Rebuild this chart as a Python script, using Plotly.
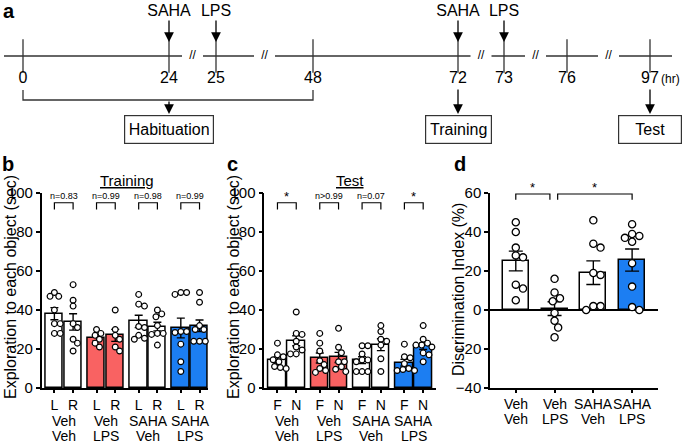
import numpy as np
import plotly.graph_objects as go

W, H = 685, 443
FONT = "Liberation Sans, Arial, sans-serif"

# ---------------- data ----------------
# panel a: timeline (hours) and their schematic positions on the drawn line
time_labels = ["0", "24", "25", "48", "72", "73", "76", "97"]
time_pos = [23, 169, 216, 313, 458, 504, 567, 650]
break_after = [1, 2, 4, 5, 6]          # a "//" break follows these points
saha_idx = [1, 4]
lps_idx = [2, 5]
stage_labels = ["Habituation", "Training", "Test"]
stage_idx = [1, 4, 7]
stage_box_w = [80, 57, 54]

# groups
group_top = ["Veh", "Veh", "SAHA", "SAHA"]
group_bottom = ["Veh", "LPS", "Veh", "LPS"]
group_colors = ["#FFFFFF", "#F96262", "#FFFFFF", "#1C7EF2"]

# panel b: training, exploration (sec) to left / right object
train_L = [[49, 47, 47, 40, 33, 33, 28, 28],
           [30, 28, 27, 25, 23, 21],
           [48, 42, 43, 31, 31.5, 27, 25, 25.5],
           [49, 48, 49, 29, 28.5, 29, 22.5, 13.5, 8.5]]
train_R = [[53, 45, 42, 33, 31, 25, 23, 19],
           [40, 30, 27, 25, 21, 19],
           [40, 38, 36.5, 32, 28, 27.5, 28, 22],
           [49, 44, 32, 30, 30, 30, 24, 24, 24]]
train_p = ["n=0.83", "n=0.99", "n=0.98", "n=0.99"]

# panel c: test, exploration (sec) to familiar / novel object
test_F = [[23, 17, 16, 14.5, 13.5, 11, 10, 10.5],
          [28, 23, 19, 14, 12, 10, 9, 8],
          [21.7, 21.7, 17.4, 14.4, 13.5, 14.4, 8.4, 8.4, 8.4],
          [22.5, 16, 15.5, 12.5, 10, 9, 9, 9.5]]
test_N = [[39, 28, 27.5, 24, 21, 19.5, 17.5, 17.5],
          [30.6, 20.9, 18.1, 13.5, 13.5, 10.9, 9.6, 8.4],
          [32, 29, 25, 24, 22, 15, 8.5],
          [32, 25, 23, 22, 22, 21, 18, 17, 13.5]]
test_p = ["*", "n>0.99", "n=0.07", "*"]

# panel d: discrimination index (%)
disc = [[45, 40, 32, 27, 28, 13, 11, 5],
        [16, 6, 4.5, 9, -1.5, -5.5, -9, -14],
        [46, 32, 34, 19, 18, 2, 0, 2],
        [44, 39, 37, 35, 38, 24, 12, 0, 1.5]]
disc_pairs = [(0, 1), (1, 3)]
disc_p = ["*", "*"]

# ---------------- layout constants (pixels) ----------------
PY_TOP, PY_BOT = 193, 388
PANEL = {
    "b": dict(x0=41.7, x1=208.3, xr=[-0.523, 3.43], yr=[0, 100]),
    "c": dict(x0=264.3, x1=435.7, xr=[-0.533, 3.518], yr=[0, 100]),
    "d": dict(x0=490.0, x1=657.7, xr=[-0.665, 3.66], yr=[-40, 60]),
}
OFF = 0.222
BW_PAIR = 0.41
BW_D = 0.67


def pxx(p):
    return p / W


def pxy(p):
    return 1 - p / H


def scales(key):
    P = PANEL[key]
    sx = (P["x1"] - P["x0"]) / (P["xr"][1] - P["xr"][0])
    sy = (PY_BOT - PY_TOP) / (P["yr"][1] - P["yr"][0])
    return sx, sy


def swarm(vals, center, sx, sy, d):
    placed = []
    xs = [0.0] * len(vals)
    order = sorted(range(len(vals)), key=lambda i: -vals[i])
    cands = [0.0]
    for k in range(1, 40):
        cands += [k * d / 4, -k * d / 4]
    for i in order:
        yp = vals[i] * sy
        for c in cands:
            if all((c - a) ** 2 + (yp - b) ** 2 >= d * d * 0.98 for a, b in placed):
                break
        placed.append((c, yp))
        xs[i] = center + c / sx
    return xs


def sem(v):
    v = np.asarray(v, float)
    return float(v.std(ddof=1) / np.sqrt(len(v)))


fig = go.Figure()
shapes = []
annotations = []
BLACK = "black"


def paper_text(x, y, text, size, **kw):
    d = dict(x=pxx(x), y=pxy(y), xref="paper", yref="paper", text=text,
             showarrow=False, xanchor="center", yanchor="middle",
             font=dict(size=size, color=BLACK))
    d.update(kw)
    return d


def add_pair_panel(key, xa, ya, left, right, ticklab, plabels):
    sx, sy = scales(key)
    xs, ys, errs, cols, tv, tt = [], [], [], [], [], []
    dx, dy = [], []
    for i in range(4):
        for side, data, lab in ((-1, left[i], ticklab[0]), (1, right[i], ticklab[1])):
            xp = i + side * OFF
            xs.append(xp)
            ys.append(float(np.mean(data)))
            errs.append(sem(data))
            cols.append(group_colors[i])
            tv.append(xp)
            tt.append(lab)
            dx += swarm(data, xp, sx, sy, 5.8)
            dy += list(data)
    fig.add_trace(go.Bar(x=xs, y=ys, width=BW_PAIR, xaxis=xa, yaxis=ya,
                         marker=dict(color=cols, line=dict(color=BLACK, width=1.5)),
                         error_y=dict(type="data", array=errs, visible=True,
                                      color=BLACK, thickness=1.4, width=4),
                         showlegend=False, hoverinfo="skip"))
    fig.add_trace(go.Scatter(x=dx, y=dy, mode="markers", xaxis=xa, yaxis=ya,
                             marker=dict(size=5.8, color="white",
                                         line=dict(color=BLACK, width=1.2)),
                             showlegend=False, hoverinfo="skip", cliponaxis=False))
    for i, pl in enumerate(plabels):
        a, b = i - OFF, i + OFF
        shapes.append(dict(type="path", xref=xa, yref=ya,
                           path=f"M {a},91.5 L {a},95 L {b},95 L {b},91.5",
                           line=dict(color=BLACK, width=1.2)))
        star = pl == "*"
        annotations.append(dict(x=i, y=95, xref=xa, yref=ya, text=pl,
                                showarrow=False, xanchor="center", yanchor="bottom",
                                yshift=-3 if star else 0,
                                font=dict(size=13 if star else 9, color=BLACK)))
    return tv, tt


def axis_common():
    return dict(showline=True, linecolor=BLACK, linewidth=1.5, ticks="outside",
                ticklen=4, tickwidth=1.5, tickcolor=BLACK, showgrid=False,
                zeroline=False, fixedrange=True, automargin=False,
                tickfont=dict(size=15, color=BLACK))


tv_b, tt_b = add_pair_panel("b", "x", "y", train_L, train_R, ["L", "R"], train_p)
tv_c, tt_c = add_pair_panel("c", "x2", "y2", test_F, test_N, ["F", "N"], test_p)

# panel d
sx, sy = scales("d")
dx, dy = [], []
for i in range(4):
    dx += swarm(disc[i], i, sx, sy, 7.2)
    dy += disc[i]
fig.add_trace(go.Bar(x=list(range(4)), y=[float(np.mean(v)) for v in disc], width=BW_D,
                     xaxis="x3", yaxis="y3",
                     marker=dict(color=group_colors, line=dict(color=BLACK, width=1.5)),
                     error_y=dict(type="data", array=[sem(v) for v in disc], visible=True,
                                  color=BLACK, thickness=1.4, width=7),
                     showlegend=False, hoverinfo="skip"))
fig.add_trace(go.Scatter(x=dx, y=dy, mode="markers", xaxis="x3", yaxis="y3",
                         marker=dict(size=7.2, color="white", line=dict(color=BLACK, width=1.3)),
                         showlegend=False, hoverinfo="skip", cliponaxis=False))
for (a, b), pl, (ea, eb) in zip(disc_pairs, disc_p, [(0, -0.12), (0.08, 0)]):
    xa_, xb_ = a + ea, b + eb
    shapes.append(dict(type="path", xref="x3", yref="y3",
                       path=f"M {xa_},56.5 L {xa_},59.5 L {xb_},59.5 L {xb_},56.5",
                       line=dict(color=BLACK, width=1.2)))
    annotations.append(dict(x=(xa_ + xb_) / 2, y=59.5, xref="x3", yref="y3", text=pl,
                            showarrow=False, xanchor="center", yanchor="bottom", yshift=-3,
                            font=dict(size=13, color=BLACK)))

# group labels under b, c, d
for key, xa, y1, y2 in (("b", "x", 421, 436), ("c", "x2", 421, 436), ("d", "x3", 404, 419)):
    for i in range(4):
        for txt, yy in ((group_top[i], y1), (group_bottom[i], y2)):
            annotations.append(dict(x=i, y=pxy(yy), xref=xa, yref="paper", text=txt,
                                    showarrow=False, xanchor="center", yanchor="middle",
                                    font=dict(size=14, color=BLACK)))

# titles / axis titles / panel letters
annotations += [
    paper_text(127, 181, "<u>Training</u>", 15),
    paper_text(350, 181, "<u>Test</u>", 15),
    paper_text(10, 287, "Exploration to each object (sec)", 16, textangle=-90),
    paper_text(233, 287, "Exploration to each object (sec)", 16, textangle=-90),
    paper_text(458, 290, "Discrimination Index (%)", 16, textangle=-90),
]
for lab, x, y in (("a", 9, 11), ("b", 8, 164), ("c", 232, 164), ("d", 460, 164)):
    annotations.append(paper_text(x, y, f"<b>{lab}</b>", 20))

# ---------------- panel a: timeline ----------------
LINE_Y, GAP = 56, 10.5
line_x, line_y = [4], [LINE_Y]
for k in break_after:
    mid = (time_pos[k] + time_pos[k + 1]) / 2
    line_x += [mid - GAP, None, mid + GAP]
    line_y += [LINE_Y, None, LINE_Y]
line_x.append(672)
line_y.append(LINE_Y)
fig.add_trace(go.Scatter(x=line_x, y=line_y, mode="lines", xaxis="x4", yaxis="y4",
                         line=dict(color="#333333", width=1.3), showlegend=False,
                         hoverinfo="skip"))
fig.add_trace(go.Scatter(x=time_pos, y=[LINE_Y] * len(time_pos), mode="markers",
                         xaxis="x4", yaxis="y4",
                         marker=dict(symbol="line-ns", size=24,
                                     line=dict(color="#333333", width=1.3)),
                         showlegend=False, hoverinfo="skip"))
fig.add_trace(go.Scatter(x=time_pos, y=[79] * len(time_pos), mode="text",
                         text=time_labels, xaxis="x4", yaxis="y4",
                         textfont=dict(size=16, color=BLACK),
                         showlegend=False, hoverinfo="skip"))
breaks_x = [(time_pos[k] + time_pos[k + 1]) / 2 for k in break_after]
fig.add_trace(go.Scatter(x=breaks_x, y=[LINE_Y] * len(breaks_x), mode="text",
                         text=["//"] * len(breaks_x), xaxis="x4", yaxis="y4",
                         textfont=dict(size=12, color=BLACK),
                         showlegend=False, hoverinfo="skip"))
annotations.append(dict(x=670, y=79, xref="x4", yref="y4", text="(hr)",
                        xanchor="center", yanchor="middle",
                        showarrow=False, font=dict(size=12, color=BLACK)))

# injection labels as text marks
inj_x = [time_pos[k] for k in saha_idx] + [time_pos[k] for k in lps_idx]
inj_t = ["SAHA"] * len(saha_idx) + ["LPS"] * len(lps_idx)
fig.add_trace(go.Scatter(x=inj_x, y=[12] * len(inj_x), mode="text", text=inj_t,
                         xaxis="x4", yaxis="y4", textfont=dict(size=16, color=BLACK),
                         showlegend=False, hoverinfo="skip", cliponaxis=False))


def arrow(x, y_from, y_to):
    return dict(x=x, y=y_to, ax=x, ay=y_from, xref="x4", yref="y4", axref="x4",
                ayref="y4", text="", showarrow=True, arrowhead=2, arrowsize=1.5,
                arrowwidth=1.3, arrowcolor=BLACK)


for k in saha_idx + lps_idx:
    annotations.append(arrow(time_pos[k], 19, 42))

# habituation bracket
shapes.append(dict(type="path", xref="x4", yref="y4",
                   path=f"M {time_pos[0]},90 L {time_pos[0]},100 L {time_pos[3]},100 L {time_pos[3]},90",
                   line=dict(color="#333333", width=1.3)))
for lab, k, bw in zip(stage_labels, stage_idx, stage_box_w):
    y_from = 100 if lab == "Habituation" else 88
    annotations.append(arrow(time_pos[k], y_from, 114))
    annotations.append(dict(x=time_pos[k], y=129, xref="x4", yref="y4", text=lab,
                            xanchor="center", yanchor="middle",
                            showarrow=False, width=bw, height=19,
                            bordercolor="#333333", borderwidth=1.2, borderpad=4,
                            bgcolor="white", font=dict(size=16, color=BLACK)))

# ---------------- axes ----------------
layout = dict(template="none", width=W, height=H,
              margin=dict(l=0, r=0, t=0, b=0, pad=0, autoexpand=False),
              paper_bgcolor="white", plot_bgcolor="rgba(0,0,0,0)",
              font=dict(family=FONT, color=BLACK), bargap=0,
              shapes=shapes, annotations=annotations, showlegend=False)

for key, xa, ya, tv, tt in (("b", "xaxis", "yaxis", tv_b, tt_b),
                            ("c", "xaxis2", "yaxis2", tv_c, tt_c),
                            ("d", "xaxis3", "yaxis3", list(range(4)), [""] * 4)):
    P = PANEL[key]
    anchor_y = ya.replace("axis", "")
    anchor_x = xa.replace("axis", "")
    xd = axis_common()
    xd.update(domain=[pxx(P["x0"]), pxx(P["x1"])], range=P["xr"], anchor=anchor_y,
              tickmode="array", tickvals=tv, ticktext=tt, showticklabels=(key != "d"),
              ticklen=3, tickfont=dict(size=14, color=BLACK))
    yd = axis_common()
    yd.update(domain=[pxy(PY_BOT), pxy(PY_TOP)], range=P["yr"], anchor=anchor_x,
              tickmode="linear", tick0=P["yr"][0], dtick=20)
    if key == "d":
        yd.update(zeroline=True, zerolinecolor=BLACK, zerolinewidth=1.5)
    layout[xa] = xd
    layout[ya] = yd

layout["xaxis4"] = dict(domain=[0, 1], range=[0, W], anchor="y4", visible=False,
                        fixedrange=True, automargin=False)
layout["yaxis4"] = dict(domain=[pxy(150), 1], range=[150, 0], anchor="x4",
                        visible=False, fixedrange=True, automargin=False)

fig.update_layout(**layout)
fig.write_html("out.html", config={"displayModeBar": False},
               post_script="document.body.style.margin='0px';document.body.style.padding='0px';")
